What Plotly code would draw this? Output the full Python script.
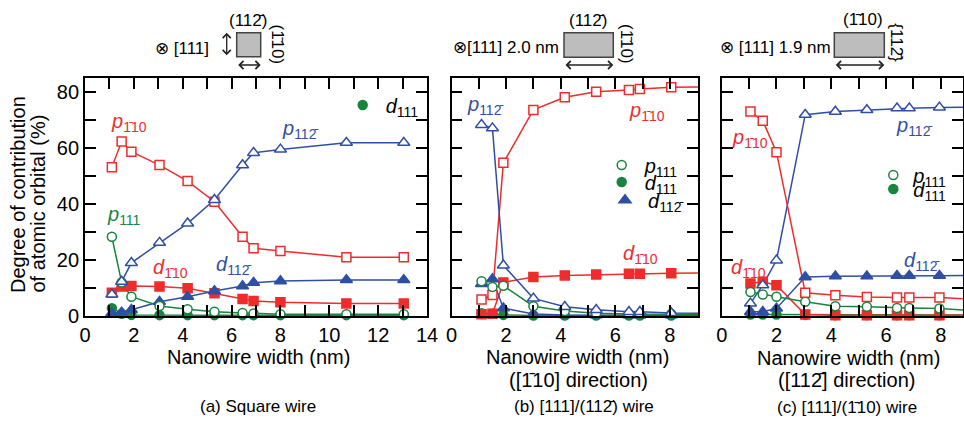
import plotly.graph_objects as go

W, H = 964, 421
FONT = "Liberation Sans, Arial, sans-serif"
RED = "#ee2c2c"
BLUE = "#2f4fa5"
GREEN = "#17843f"
OL = "\u0304"  # combining macron (crystallographic bar)

# ---------------- data ----------------
# (a) square wire
width_a = [1.1, 1.5, 1.9, 3.05, 4.2, 5.3, 6.45, 6.9, 8.0, 10.7, 13.05]
a_p_m110 = [53.1, 62.3, 58.7, 53.9, 48.2, 40.8, 28.3, 24.2, 23.2, 21.0, 21.0]
a_p_112 = [7.7, 12.3, 19.0, 26.2, 33.1, 41.5, 53.9, 58.3, 59.5, 61.9, 61.9]
a_p_111 = [28.3, 12.0, 6.9, 3.6, 2.4, 1.5, 1.1, 0.9, 0.6, 0.6, 0.6]
a_d_m110 = [8.3, 10.5, 10.7, 10.5, 9.9, 8.1, 6.1, 5.4, 4.9, 4.5, 4.5]
a_d_112 = [1.0, 1.3, 2.2, 5.1, 6.9, 8.9, 10.7, 11.9, 12.5, 12.9, 12.9]
a_d_111 = [2.8, 0.8, 0.4, 0.3, 0.3, 0.3, 0.3, 0.3, 0.3, 0.3, 0.3]

# (b) [111]/(11-2) wire
width_b = [1.1, 1.5, 1.9, 3.0, 4.15, 5.3, 6.5, 6.9, 8.05, 10.7]
b_p_m110 = [5.9, 7.5, 54.7, 73.6, 78.1, 80.1, 80.7, 81.1, 81.7, 82.0]
b_p_112 = [68.3, 67.1, 18.1, 6.3, 3.3, 2.2, 1.5, 1.5, 1.1, 0.8]
b_p_111 = [12.4, 10.4, 10.8, 3.5, 1.8, 1.0, 0.7, 0.7, 0.7, 0.6]
b_d_m110 = [0.6, 0.8, 12.0, 13.9, 14.5, 14.8, 15.1, 15.1, 15.3, 15.5]
b_d_112 = [11.5, 13.2, 2.8, 0.7, 0.4, 0.3, 0.3, 0.3, 0.3, 0.3]
b_d_111 = [1.0, 0.8, 0.4, 0.2, 0.2, 0.2, 0.2, 0.2, 0.2, 0.2]

# (c) [111]/(-110) wire
width_c = [1.05, 1.5, 2.0, 3.05, 4.15, 5.3, 6.4, 6.85, 7.95, 10.7]
c_p_m110 = [73.0, 69.7, 58.5, 8.3, 7.4, 6.8, 6.6, 6.6, 6.6, 5.3]
c_p_112 = [4.5, 11.0, 19.9, 71.9, 73.0, 73.6, 74.2, 74.2, 74.5, 74.8]
c_p_111 = [8.6, 7.7, 6.9, 5.1, 3.5, 3.3, 2.9, 2.9, 2.7, 1.0]
c_d_m110 = [11.6, 12.2, 11.0, 0.5, 0.3, 0.3, 0.3, 0.3, 0.3, 0.3]
c_d_112 = [1.5, 1.5, 2.7, 13.9, 14.2, 14.2, 14.4, 14.4, 14.4, 14.6]
c_d_111 = [0.5, 0.5, 0.5, 0.4, 0.3, 0.3, 0.3, 0.3, 0.3, 0.3]

# axis ticks
xticks_a = list(range(0, 15))
xticks_bc = list(range(0, 10))
yticks = list(range(0, 90, 10))
xlabels_a = [str(v) if v % 2 == 0 else "" for v in xticks_a]
xlabels_bc = [str(v) if v % 2 == 0 else "" for v in xticks_bc]
ylabels = [str(v) if v % 20 == 0 else "" for v in yticks]

x_range_a = [0, 14]
x_range_b = [0, 9.03]
x_range_c = [0, 8.81]
y_range = [0, 85]

# orbital labels
P111 = "<i>p</i><sub>111</sub>"
D111 = "<i>d</i><sub>111</sub>"
P110 = "<i>p</i><sub>1" + OL + "10</sub>"
D110 = "<i>d</i><sub>1" + OL + "10</sub>"
P112 = "<i>p</i><sub>112" + OL + "</sub>"
D112 = "<i>d</i><sub>112" + OL + "</sub>"


def px(x):
    return x / W


def py(y):
    return 1 - y / H


fig = go.Figure()

# series order = drawing order of the markers
panels = [
    ("x", "y", width_a, x_range_a[1],
     [(a_d_111, GREEN, "circle", True, "legend", D111),
      (a_d_m110, RED, "square", True, None, None),
      (a_d_112, BLUE, "triangle-up", True, None, None),
      (a_p_111, GREEN, "circle", False, None, None),
      (a_p_m110, RED, "square", False, None, None),
      (a_p_112, BLUE, "triangle-up", False, None, None)]),
    ("x2", "y2", width_b, x_range_b[1],
     [(b_d_111, GREEN, "circle", True, "legend3", D111),
      (b_d_m110, RED, "square", True, None, None),
      (b_d_112, BLUE, "triangle-up", True, "legend4", D112),
      (b_p_m110, RED, "square", False, None, None),
      (b_p_111, GREEN, "circle", False, "legend2", P111),
      (b_p_112, BLUE, "triangle-up", False, None, None)]),
    ("x3", "y3", width_c, x_range_c[1],
     [(c_d_111, GREEN, "circle", True, "legend6", D111),
      (c_d_112, BLUE, "triangle-up", True, None, None),
      (c_d_m110, RED, "square", True, None, None),
      (c_p_112, BLUE, "triangle-up", False, None, None),
      (c_p_111, GREEN, "circle", False, "legend5", P111),
      (c_p_m110, RED, "square", False, None, None)]),
]

SIZES = {"square": 9, "triangle-up": 10.5, "circle": 9}

# lines first
for xa, ya, xs, xmax, series in panels:
    for ys, col, sym, filled, leg, name in series:
        fig.add_trace(go.Scatter(x=xs, y=ys, mode="lines", xaxis=xa, yaxis=ya,
                                 line=dict(color=col, width=1.5),
                                 showlegend=False, hoverinfo="skip"))
# markers on top
for xa, ya, xs, xmax, series in panels:
    for ys, col, sym, filled, leg, name in series:
        mx = [x for x in xs if x <= xmax]
        my = [y for x, y in zip(xs, ys) if x <= xmax]
        kw = dict(showlegend=False)
        if leg is not None:
            kw = dict(showlegend=True, legend=leg, name=name)
        fig.add_trace(go.Scatter(x=mx, y=my, mode="markers", xaxis=xa, yaxis=ya,
                                 cliponaxis=False,
                                 marker=dict(symbol=sym, size=SIZES[sym],
                                             color=col if filled else "white",
                                             line=dict(color=col, width=1.5)),
                                 **kw))

ydom = [py(316), py(78)]
common_axis = dict(showline=True, linecolor="black", linewidth=1.8, mirror="allticks",
                   ticks="inside", ticklen=11, tickwidth=1.5, tickcolor="black",
                   showgrid=False, zeroline=False, automargin=False,
                   tickfont=dict(family=FONT, size=20, color="black"))

fig.update_layout(
    width=W, height=H, autosize=False,
    margin=dict(l=0, r=0, t=0, b=0, pad=0, autoexpand=False),
    paper_bgcolor="white", plot_bgcolor="white",
    font=dict(family=FONT, size=18, color="black"),
    xaxis=dict(domain=[px(85), px(427)], range=x_range_a, anchor="y",
               tickmode="array", tickvals=xticks_a, ticktext=xlabels_a, **common_axis),
    yaxis=dict(domain=ydom, range=y_range, anchor="x",
               tickmode="array", tickvals=yticks, ticktext=ylabels, **common_axis),
    xaxis2=dict(domain=[px(451.5), px(698)], range=x_range_b, anchor="y2",
                tickmode="array", tickvals=xticks_bc, ticktext=xlabels_bc, **common_axis),
    yaxis2=dict(domain=ydom, range=y_range, anchor="x2", showticklabels=False,
                tickmode="array", tickvals=yticks, ticktext=ylabels, **common_axis),
    xaxis3=dict(domain=[px(721.7), px(963)], range=x_range_c, anchor="y3",
                tickmode="array", tickvals=xticks_bc, ticktext=xlabels_bc, **common_axis),
    yaxis3=dict(domain=ydom, range=y_range, anchor="x3", showticklabels=False,
                tickmode="array", tickvals=yticks, ticktext=ylabels, **common_axis),
)

# single-item legends positioned next to their symbols
leg_pos = {"legend": (362.7, 105, 36), "legend2": (621.7, 165, 36), "legend3": (621.7, 182, 36),
           "legend4": (625, 200, 36), "legend5": (893.3, 175, 30), "legend6": (893.3, 189, 30)}
for k, (mx, my, iw) in leg_pos.items():
    fig.update_layout({k: dict(x=px(mx - iw / 2 - 5), y=py(my), xanchor="left",
                               yanchor="middle", itemwidth=iw,
                               bgcolor="rgba(0,0,0,0)", borderwidth=0,
                               font=dict(family=FONT, size=20, color="black"))})

ann = []


def text(x, y, s, size=20, color="black", angle=0, xanchor="center", yanchor="middle"):
    ann.append(dict(x=px(x), y=py(y), xref="paper", yref="paper", text=s, showarrow=False,
                    font=dict(family=FONT, size=size, color=color), textangle=angle,
                    xanchor=xanchor, yanchor=yanchor))


def arrow(x0, y0, x1, y1):
    ann.append(dict(x=px(x1), y=py(y1), xref="paper", yref="paper", ax=x0 - x1, ay=y0 - y1,
                    axref="pixel", ayref="pixel", text="", showarrow=True,
                    arrowhead=4, startarrowhead=4, arrowside="end+start",
                    arrowsize=1.2, startarrowsize=1.2, arrowwidth=1.3, arrowcolor="#222",
                    standoff=0, startstandoff=0))


# curve labels
text(129, 123, P110, color=RED)
text(300, 129, P112, color=BLUE)
text(124, 215, P111, color=GREEN)
text(170, 268, D110, color=RED)
text(233, 265, D112, color=BLUE)
text(485, 106, P112, color=BLUE)
text(647, 111, P110, color=RED)
text(640, 254, D110, color=RED)
text(750, 138, P110, color=RED)
text(914, 126, P112, color=BLUE)
text(921, 261, D112, color=BLUE)
text(748, 268, D110, color=RED)

# axis titles
text(17.5, 295, "Degree of contribution", angle=-90, yanchor="bottom")
text(37.5, 295, "of atomic orbital (%)", angle=-90, yanchor="bottom")
text(258, 357, "Nanowire width (nm)")
text(577, 357, "Nanowire width (nm)")
text(578, 380, "([1" + OL + "10] direction)")
text(848, 358, "Nanowire width (nm)")
text(846, 380, "([112" + OL + "] direction)")

# captions
text(258, 406, "(a) Square wire", size=17)
text(584, 406, "(b) [111]/(112" + OL + ") wire", size=17)
text(847, 407, "(c) [111]/(1" + OL + "10) wire", size=17)

# cross-section sketches
text(182, 48, "\u2297 [111]", size=17)
text(248, 20, "(112" + OL + ")", size=17)
text(277.5, 44, "(1" + OL + "10)", size=17, angle=90)
text(506, 47.5, "\u2297[111] 2.0 nm", size=17)
text(588, 21, "(112" + OL + ")", size=17)
text(627, 44, "(1" + OL + "10)", size=17, angle=90)
text(775, 47.5, "\u2297 [111] 1.9 nm", size=17)
text(862.5, 19, "(1" + OL + "10)", size=17)
text(896.7, 43, "{112" + OL + "}", size=17, angle=90)

arrow(226.7, 56.7, 226.7, 32.7)
arrow(236.7, 65, 260.7, 65)
arrow(564, 65, 613.3, 65)
arrow(834.3, 65, 884.3, 65)

shapes = []
for (x0, y0, x1, y1) in [(236.7, 32.7, 260.7, 56.7), (564, 32.7, 613.3, 57.3),
                         (834.3, 32.7, 884.3, 57.3)]:
    shapes.append(dict(type="rect", xref="paper", yref="paper",
                       x0=px(x0), x1=px(x1), y0=py(y1), y1=py(y0),
                       fillcolor="#bdbdbd", line=dict(color="#444", width=1.5)))

fig.update_layout(annotations=ann, shapes=shapes)
fig.write_html("out.html", config={"displayModeBar": False},
               post_script="document.body.style.margin='0px';"
                           "document.body.style.overflow='hidden';")
